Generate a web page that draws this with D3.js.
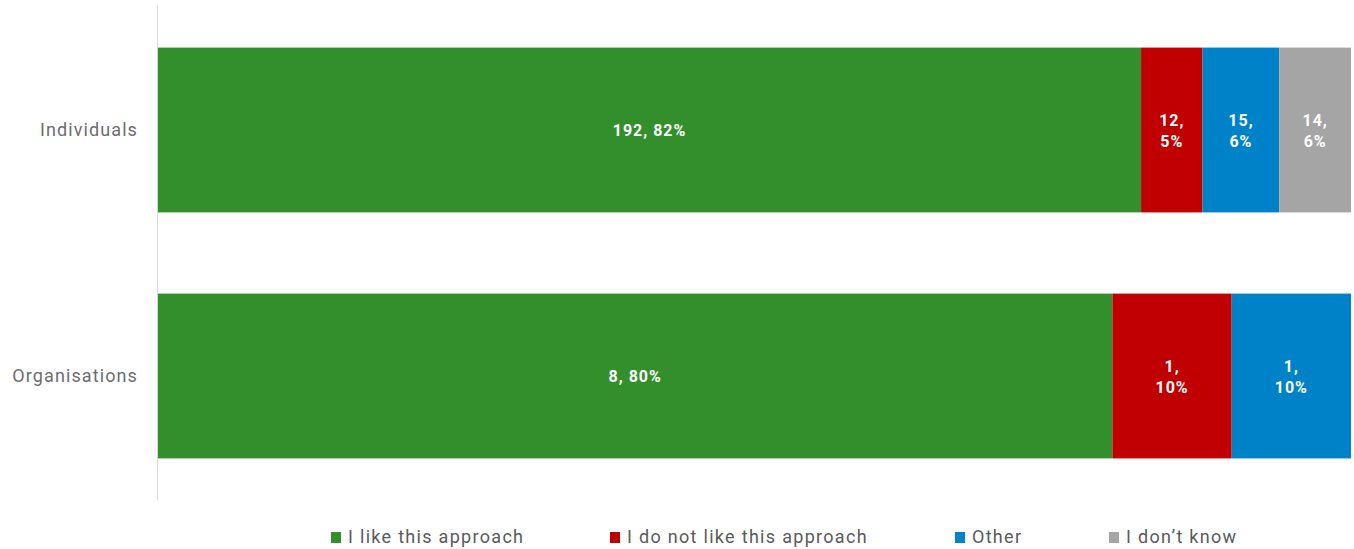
<!DOCTYPE html>
<html>
<head>
<meta charset="utf-8">
<script src="https://cdn.jsdelivr.net/npm/d3@7/dist/d3.min.js"></script>
<style>
  html, body { margin: 0; padding: 0; background: #fff; }
  svg { display: block; }
</style>
</head>
<body>
<svg id="chart" width="1354" height="549"></svg>
<script>
const categories = ["Individuals", "Organisations"];
const seriesNames = ["I like this approach", "I do not like this approach", "Other", "I don\u2019t know"];
const likeValues = [192, 8];
const dislikeValues = [12, 1];
const otherValues = [15, 1];
const dontKnowValues = [14, 0];
const seriesColors = ["#338f2b", "#c00000", "#0082c8", "#a5a5a5"];

const seriesValues = [likeValues, dislikeValues, otherValues, dontKnowValues];
const rows = categories.map((c, i) => {
  const r = { category: c };
  seriesNames.forEach((s, j) => r[s] = seriesValues[j][i]);
  r.total = d3.sum(seriesValues, v => v[i]);
  return r;
});

const svg = d3.select("#chart");
const left = 158, right = 1351;

const x = d3.scaleLinear().domain([0, 1]).range([left, right]);
const y = d3.scaleBand().domain(categories).range([7, 499]).paddingInner(0.33).paddingOuter(0.165);
const color = d3.scaleOrdinal().domain(seriesNames).range(seriesColors);

const stack = d3.stack().keys(seriesNames).value((d, k) => d[k] / d.total);
const stacked = stack(rows);

// axis line
svg.append("line")
  .attr("x1", left - 0.5).attr("x2", left - 0.5)
  .attr("y1", 5).attr("y2", 500)
  .attr("stroke", "#d9d9d9").attr("stroke-width", 1);

// category labels
const yAxis = d3.axisLeft(y).tickSize(0).tickPadding(20);
const gy = svg.append("g").attr("transform", `translate(${left},0)`).call(yAxis);
gy.select(".domain").remove();
gy.selectAll("text")
  .attr("font-family", "Roboto, 'Noto Sans', sans-serif")
  .attr("font-size", 18)
  .attr("letter-spacing", "1.1px")
  .attr("fill", "#6d6d6d");

const layers = svg.append("g").selectAll("g").data(stacked).join("g")
  .attr("fill", d => color(d.key));

layers.selectAll("rect").data(d => d.map(p => Object.assign(p, { key: d.key })))
  .join("rect")
  .attr("x", d => x(d[0]))
  .attr("y", d => y(d.data.category))
  .attr("width", d => Math.max(0, x(d[1]) - x(d[0])))
  .attr("height", y.bandwidth());

// data labels
const labelG = svg.append("g")
  .attr("font-family", "Roboto, 'Noto Sans', sans-serif")
  .attr("font-weight", "bold")
  .attr("font-size", 16)
  .attr("letter-spacing", "1px")
  .attr("fill", "#ffffff")
  .attr("text-anchor", "middle");

stacked.forEach(layer => {
  layer.forEach(p => {
    const v = p.data[layer.key];
    if (!v) return;
    const pct = Math.round(v / p.data.total * 100) + "%";
    const x0 = x(p[0]), x1 = x(p[1]);
    const cx = (x0 + x1) / 2;
    const cy = y(p.data.category) + y.bandwidth() / 2;
    const w = x1 - x0;
    const t = labelG.append("text").attr("x", cx).attr("y", cy);
    if (w > 200) {
      t.attr("dy", "0.35em").text(v + ", " + pct);
    } else {
      t.append("tspan").attr("x", cx).attr("dy", "-0.25em").text(v + ",");
      t.append("tspan").attr("x", cx).attr("dy", "1.3em").text(pct);
    }
  });
});

// legend
const legendX = [331, 610, 955, 1109];
const legend = svg.append("g");
seriesNames.forEach((s, i) => {
  const g = legend.append("g").attr("transform", `translate(${legendX[i]},537)`);
  g.append("rect").attr("x", 0).attr("y", -5).attr("width", 10).attr("height", 11).attr("fill", color(s));
  g.append("text").attr("x", 17).attr("y", 0).attr("dy", "0.35em")
    .attr("font-family", "Roboto, 'Noto Sans', sans-serif")
    .attr("font-size", 18)
    .attr("letter-spacing", "1.3px")
    .attr("fill", "#5a5a5a")
    .text(s);
});
</script>
</body>
</html>
